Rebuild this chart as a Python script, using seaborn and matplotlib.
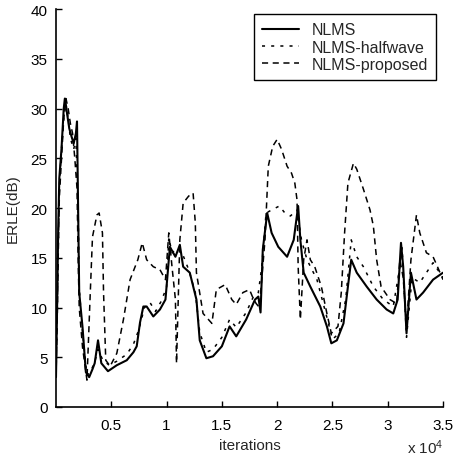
#%% IMPORTS
import numpy  as np
import pandas as pd
import seaborn as sns
import matplotlib
matplotlib.use("Agg")
from   matplotlib import pyplot as plt

#%% DATA (iterations in units of 1e4, ERLE in dB)
nlms_x = [0, 0.01, 0.02, 0.03, 0.05, 0.07, 0.08, 0.10, 0.12, 0.14, 0.16, 0.18,
          0.19, 0.20, 0.21, 0.24, 0.27, 0.30, 0.33, 0.35, 0.38, 0.41, 0.47, 0.55,
          0.64, 0.70, 0.73, 0.76, 0.79, 0.82, 0.85, 0.88, 0.94, 0.99, 1.03, 1.08,
          1.12, 1.15, 1.21, 1.27, 1.30, 1.36, 1.42, 1.50, 1.57, 1.63, 1.72, 1.80,
          1.83, 1.85, 1.87, 1.91, 1.95, 2.01, 2.09, 2.15, 2.19, 2.21, 2.24, 2.30,
          2.39, 2.45, 2.49, 2.54, 2.60, 2.64, 2.67, 2.72, 2.81, 2.90, 2.99, 3.05,
          3.09, 3.12, 3.14, 3.17, 3.21, 3.26, 3.32, 3.41, 3.50]
nlms_y = [3, 10, 18, 23, 26, 30, 31, 29.5, 28, 27.2, 26.5, 27.5,
          28.7, 20, 11.5, 8, 3.5, 3.0, 3.8, 4.4, 6.7, 4.4, 3.6, 4.2,
          4.7, 5.5, 6.1, 8.5, 10.1, 10.1, 9.6, 9.1, 9.8, 10.8, 16.1, 15.1,
          16.3, 14.1, 13.5, 10.8, 6.7, 4.9, 5.1, 6.1, 8.1, 7.1, 8.8, 10.8,
          11.1, 9.5, 15.8, 19.5, 17.5, 16.1, 15.1, 16.8, 20.2, 16.8, 13.5, 12.1,
          10.1, 8.1, 6.4, 6.7, 8.4, 12.1, 14.8, 13.5, 12.1, 10.8, 9.8, 9.4,
          10.8, 16.5, 14.1, 7.4, 13.5, 10.8, 11.5, 12.8, 13.5]

half_x = [0, 0.01, 0.02, 0.03, 0.05, 0.07, 0.09, 0.11, 0.13, 0.16, 0.18, 0.20,
          0.21, 0.24, 0.28, 0.31, 0.35, 0.38, 0.42, 0.48, 0.55, 0.64, 0.70, 0.75,
          0.80, 0.85, 0.90, 0.95, 1.00, 1.02, 1.05, 1.10, 1.14, 1.20, 1.26, 1.30,
          1.36, 1.42, 1.50, 1.57, 1.63, 1.72, 1.79, 1.83, 1.86, 1.90, 1.95, 2.02,
          2.07, 2.12, 2.18, 2.22, 2.27, 2.36, 2.45, 2.50, 2.56, 2.62, 2.67, 2.72,
          2.78, 2.87, 2.96, 3.05, 3.11, 3.13, 3.17, 3.22, 3.29, 3.35, 3.41, 3.50]
half_y = [3, 9, 16, 22, 26, 29, 30.5, 29, 27, 25.9, 27, 20,
          12, 7.5, 3.2, 3.5, 4.5, 5.8, 4.8, 4.2, 4.6, 5.3, 6.3, 7.8,
          10, 10.5, 9.6, 10.6, 12, 17, 15.5, 16, 15.5, 13.8, 11.5, 7.5,
          5.5, 5.8, 7, 8.8, 8, 9.5, 11.2, 11.5, 14, 19.5, 19.8, 20.2,
          19.5, 19.2, 19.8, 16.8, 14.8, 12.8, 9, 6.8, 7.4, 10.8, 16.8, 15.1,
          14.1, 12.1, 10.8, 10.1, 14.1, 16, 7, 13, 12.5, 13.5, 14.5, 13]

prop_x = [0, 0.01, 0.02, 0.03, 0.05, 0.07, 0.09, 0.11, 0.13, 0.15, 0.17, 0.19,
          0.20, 0.21, 0.24, 0.28, 0.31, 0.33, 0.37, 0.39, 0.42, 0.43, 0.45, 0.49,
          0.55, 0.61, 0.67, 0.74, 0.78, 0.82, 0.88, 0.94, 0.99, 1.02, 1.05, 1.08,
          1.09, 1.12, 1.15, 1.20, 1.24, 1.26, 1.27, 1.33, 1.41, 1.45, 1.53, 1.59,
          1.63, 1.69, 1.75, 1.78, 1.81, 1.84, 1.89, 1.92, 1.96, 2.00, 2.04, 2.09,
          2.13, 2.16, 2.18, 2.19, 2.21, 2.24, 2.27, 2.30, 2.34, 2.40, 2.45, 2.49,
          2.55, 2.58, 2.61, 2.64, 2.69, 2.72, 2.78, 2.84, 2.87, 2.90, 2.94, 3.02,
          3.08, 3.11, 3.14, 3.17, 3.21, 3.24, 3.26, 3.29, 3.35, 3.41, 3.45, 3.50]
prop_y = [3, 8, 15, 21, 25, 29, 31, 30, 28.5, 27.5, 25, 22,
          15, 10, 6, 2.7, 11.5, 17.1, 19.3, 19.5, 17.5, 11.5, 4.7, 4.1,
          5.4, 8.8, 12.8, 14.8, 16.5, 14.8, 14.1, 13.8, 12.8, 17.5, 14, 10.8,
          4.4, 16.8, 20.5, 21.2, 21.5, 18.5, 13.5, 9.4, 8.4, 11.8, 12.3, 10.8,
          10.3, 11.5, 11.8, 11.0, 10.4, 10, 16.8, 24.2, 26.2, 26.9, 25.9, 24.2,
          23.5, 22.5, 20.8, 14.1, 8.8, 14.8, 16.8, 14.8, 14.1, 12.1, 9.4, 7.4,
          8.1, 11.5, 17.5, 22.5, 24.5, 23.9, 21.9, 19.8, 18.2, 14.8, 12.1, 10.8,
          10.4, 14.8, 13, 8.1, 14.8, 17.5, 19.3, 17.5, 15.5, 15.1, 14.1, 12.8]

labels = ["NLMS", "NLMS-halfwave", "NLMS-proposed"]
xticks = [0.5, 1, 1.5, 2, 2.5, 3, 3.5]
yticks = [0, 5, 10, 15, 20, 25, 30, 35, 40]

#%% CONFIGURATION
sns.set_style("white")
plt.rcParams['font.family'] = ['Liberation Sans', 'DejaVu Sans']
plt.rcParams['mathtext.default'] = 'regular'

#%% MAIN CODE
fig = plt.figure(figsize=(4.56, 4.64), dpi=100)
ax = fig.add_axes([0.1228, 0.1207, 0.9715 - 0.1228, 0.9784 - 0.1207])

series = [(nlms_x, nlms_y, "-", 1.5),
          (half_x, half_y, (0, (2, 4)), 1.1),
          (prop_x, prop_y, (0, (4, 3)), 1.1)]
for (xs, ys, ls, lw), lab in zip(series, labels):
    df = pd.DataFrame({"it": np.array(xs) * 1e4, "erle": ys})
    sns.lineplot(data=df, x="it", y="erle", ax=ax, color="black",
                 linestyle=ls, linewidth=lw, label=lab, estimator=None,
                 sort=False)

ax.set_xlim(0, 35000)
ax.set_ylim(0, 40)
ax.set_xticks([t * 1e4 for t in xticks])
ax.set_xticklabels([f"{t:g}" for t in xticks])
ax.set_yticks(yticks)
ax.tick_params(direction="in", length=4, width=1, colors="black",
               labelsize=11, bottom=True, left=True)
ax.tick_params(axis="x", pad=8)
ax.tick_params(axis="y", pad=6)
for side in ["top", "right"]:
    ax.spines[side].set_visible(False)
for side in ["left", "bottom"]:
    ax.spines[side].set_color("black")
    ax.spines[side].set_linewidth(1.2)

ax.set_xlabel("iterations", fontsize=11, labelpad=4)
ax.set_ylabel("ERLE(dB)", fontsize=11, labelpad=8)
fig.text(0.932, 0.022, "x 10$^4$", fontsize=11, ha="center", va="baseline")

leg = ax.legend(loc="upper right", bbox_to_anchor=(0.982, 0.987),
                borderaxespad=0, fontsize=11.5, handlelength=2.3,
                handletextpad=0.8, labelspacing=0.15, borderpad=0.5,
                fancybox=False, framealpha=1, edgecolor="black")
leg.get_frame().set_linewidth(1.0)

fig.savefig("out.png", dpi=100)
